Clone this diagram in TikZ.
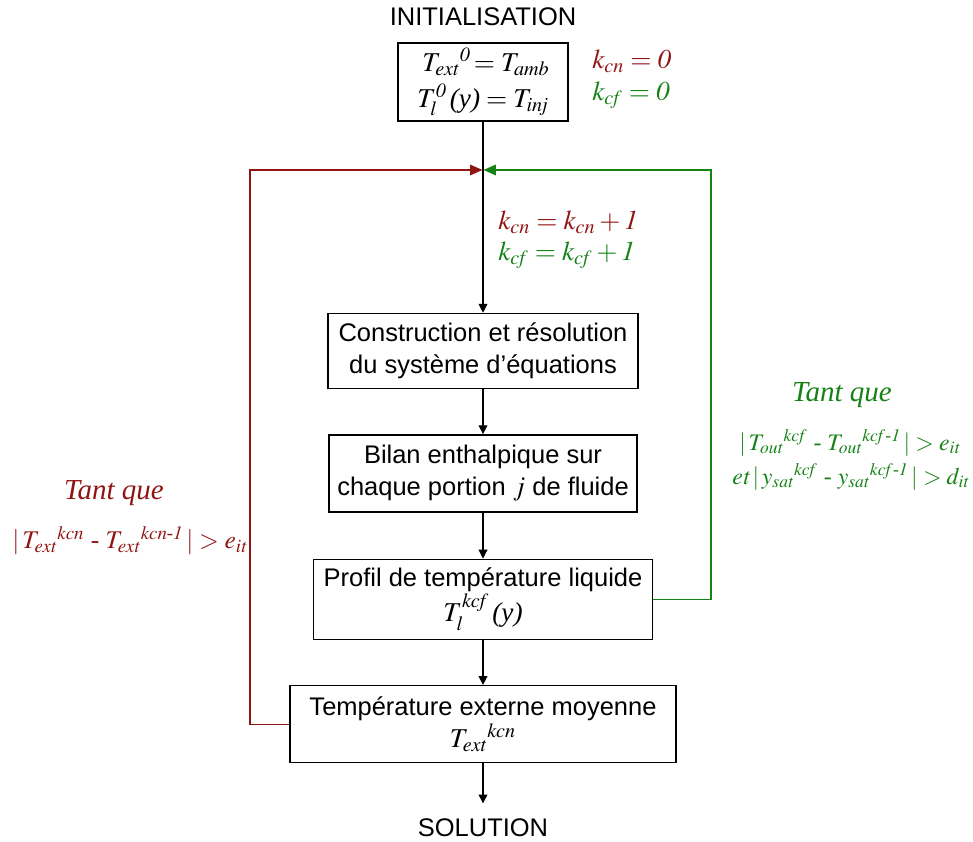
\documentclass[tikz,border=0pt]{standalone}
\usepackage{amsmath}
\usepackage{mathptmx}
\usepackage{fontspec}
\setmainfont{Liberation Serif}
\setsansfont{Liberation Sans}
\usetikzlibrary{arrows.meta, positioning}
\definecolor{loopcn}{RGB}{145,20,20}
\definecolor{loopcf}{RGB}{20,130,20}
\newcommand{\eqtxt}[1]{{\rmfamily\fontsize{15.5}{19}\selectfont$#1$}}
\tikzset{
	step_box/.style={rectangle, draw=black, line width=0.8pt, font=\sffamily\fontsize{14.5}{18.5}\selectfont, align=center, inner sep=2pt},
	title_txt/.style={font=\sffamily\fontsize{14.5}{17}\selectfont, inner sep=0pt},
	eq_cn/.style={text=loopcn, font=\rmfamily\fontsize{15.5}{19}\selectfont, inner sep=0pt},
	eq_cf/.style={text=loopcf, font=\rmfamily\fontsize{15.5}{19}\selectfont, inner sep=0pt},
	cond_txt/.style={font=\rmfamily\fontsize{14.5}{19}\selectfont},
	while_txt/.style={font=\rmfamily\itshape\fontsize{16.5}{19}\selectfont},
	flow_arrow/.style={-{Triangle[length=5pt,width=5pt]}, line width=0.6pt},
	loop_cn/.style={draw=loopcn, line width=0.7pt, -{Triangle[length=7pt,width=6pt]}, shorten >=0.3pt},
	loop_cf/.style={draw=loopcf, line width=0.7pt, -{Triangle[length=7pt,width=6pt]}, shorten >=0.3pt}
}

\begin{document}
\begin{tikzpicture}
	\useasboundingbox (0,0) rectangle (19.46,-16.84);
	\node[step_box, minimum width=3.4cm, minimum height=1.56cm] (init) at (9.66,-1.64) {\eqtxt{\;{T_{\mathit{ext}}}^{\mathit{0}}\!= T_{\mathit{amb}}}\\[2pt] \eqtxt{T_l^{\mathit{0}}\,\textit{(y)} = T_{\mathit{inj}}}};
	\node[title_txt, above=0.32cm of init] (start) {INITIALISATION};
	\node[eq_cn, anchor=west] (kcn0) at (11.84,-1.22) {$k_{\mathit{cn}} = \mathit{0}$};
	\node[eq_cf, anchor=west] (kcf0) at (11.84,-1.9) {$k_{\mathit{cf}} = \mathit{0}$};
	\coordinate (join) at (9.66,-3.4);
	\node[step_box, minimum width=6.2cm, minimum height=1.5cm, below=3.82cm of init] (build) {Construction et résolution\\du système d'équations};
	\node[step_box, minimum width=6.16cm, minimum height=1.54cm, below=0.9cm of build] (balance) {Bilan enthalpique sur\\chaque portion \eqtxt{j} de fluide};
	\node[step_box, minimum width=6.78cm, minimum height=1.6cm, below=0.92cm of balance] (profile) {Profil de température liquide\\\eqtxt{T_l^{\mathit{kcf}}\,\textit{(y)}}};
	\node[step_box, minimum width=7.72cm, minimum height=1.54cm, below=0.9cm of profile] (mean) {Température externe moyenne\\\eqtxt{{T_{\mathit{ext}}}^{\mathit{kcn}}}};
	\node[title_txt, below=1.1cm of mean] (sol) {SOLUTION};
	% main flow
	\draw[flow_arrow] (init.south) -- (build.north);
	\draw[flow_arrow] (build) -- (balance);
	\draw[flow_arrow] (balance) -- (profile);
	\draw[flow_arrow] (profile) -- (mean);
	\draw[flow_arrow, shorten >=0.3cm] (mean) -- (sol.north);
	% loops
	\coordinate[left=4.66cm of join] (cn_corner);
	\coordinate[right=4.56cm of join] (cf_corner);
	\draw[loop_cn] (mean.west) -| (cn_corner) -- (join);
	\draw[loop_cf] (profile.east) -| (cf_corner) -- (join);
	\node[eq_cn, anchor=west] (inc_cn) at (9.96,-4.44) {$k_{\mathit{cn}} = k_{\mathit{cn}} + \mathit{1}$};
	\node[eq_cf, anchor=west] (inc_cf) at (9.96,-5.1) {$k_{\mathit{cf}} = k_{\mathit{cf}} +\mathit{1}$};
	\node[eq_cn, while_txt] (while_cn) at (2.28,-9.86) {Tant que};
	\node[eq_cn, cond_txt] (cond_cn) at (2.6,-10.82) {$|\,{T_{\mathit{ext}}}^{\mathit{kcn}}\mbox{ - }{T_{\mathit{ext}}}^{\mathit{kcn}\text{-}\mathit{1}}\,| > e_{\mathit{it}}$};
	\node[eq_cf, while_txt] (while_cf) at (16.84,-7.9) {Tant que};
	\node[eq_cf, cond_txt, font=\fontsize{13.5}{19}\selectfont] (cond_cf1) at (17.0,-8.86) {$|\,{T_{\mathit{out}}}^{\mathit{kcf}}\mbox{ - }{T_{\mathit{out}}}^{\mathit{kcf}\text{-}\mathit{1}}\,| > e_{\mathit{it}}$};
	\node[eq_cf, cond_txt, font=\fontsize{13.5}{19}\selectfont] (cond_cf2) at (17.02,-9.54) {$\mathit{et}\,|\,{y_{\mathit{sat}}}^{\mathit{kcf}}\mbox{ - }{y_{\mathit{sat}}}^{\mathit{kcf}\text{-}\mathit{1}}\,| > d_{\mathit{it}}$};
\end{tikzpicture}
\end{document}
